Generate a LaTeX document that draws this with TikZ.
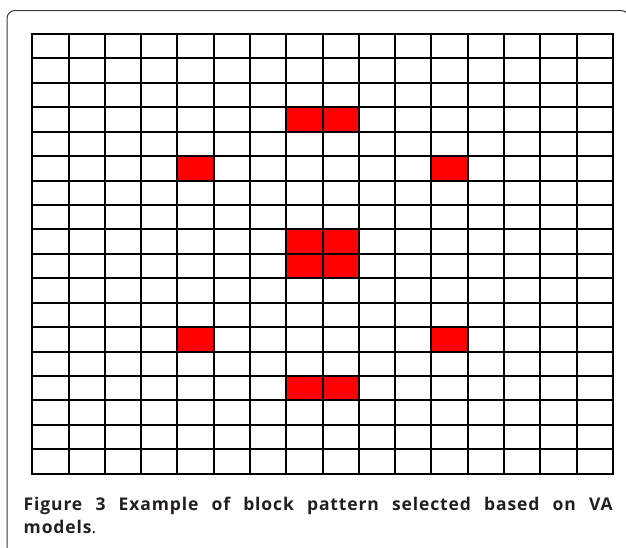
\documentclass[tikz,border=0pt]{standalone}
\usepackage{fontspec}
\setmainfont{Open Sans}
\newfontfamily\capfont[LetterSpace=5]{Open Sans}
\definecolor{captxt}{HTML}{231F20}
\definecolor{framegray}{HTML}{3A3A3A}
\begin{document}
\begin{tikzpicture}[x=1pt,y=-1pt,
  gridline/.style={line width=2pt,black},
  redcell/.style={fill={rgb,255:red,255;green,0;blue,0}},
  framestyle/.style={draw=framegray,line width=1pt,rounded corners=8pt}]
\useasboundingbox (0,0) rectangle (626,547);
\fill[white] (0,0) rectangle (626,547);
\begin{scope}
\clip (0,0) rectangle (626,547);
\draw[framestyle] (7,10.5) rectangle (629,600);
\end{scope}
\def\gx{32.3}\def\gy{34}\def\dx{36.29}\def\dy{24.43}
% red cells: (col,row)
\foreach \c/\r in {7/3,8/3,4/5,11/5,7/8,8/8,7/9,8/9,4/12,11/12,7/14,8/14}{
  \fill[redcell] ({\gx+\c*\dx},{\gy+\r*\dy}) rectangle ({\gx+(\c+1)*\dx},{\gy+(\r+1)*\dy});
}
\foreach \i in {0,...,16}{
  \draw[gridline] ({\gx+\i*\dx},{\gy-1}) -- ({\gx+\i*\dx},{\gy+18*\dy+1});
}
\foreach \j in {0,...,18}{
  \draw[gridline] ({\gx-1},{\gy+\j*\dy}) -- ({\gx+16*\dx+1},{\gy+\j*\dy});
}
\node[anchor=base west,inner sep=0pt,text=captxt,font=\capfont\fontsize{17.5}{20}\selectfont\bfseries] (cap1) at (23.5,510)
  {\makebox[589pt][s]{Figure 3 Example of block pattern selected based on VA}};
\node[anchor=base west,inner sep=0pt,text=captxt,font=\capfont\fontsize{17.5}{20}\selectfont] (cap2) at (23.5,533)
  {\textbf{models}.};
\end{tikzpicture}
\end{document}
